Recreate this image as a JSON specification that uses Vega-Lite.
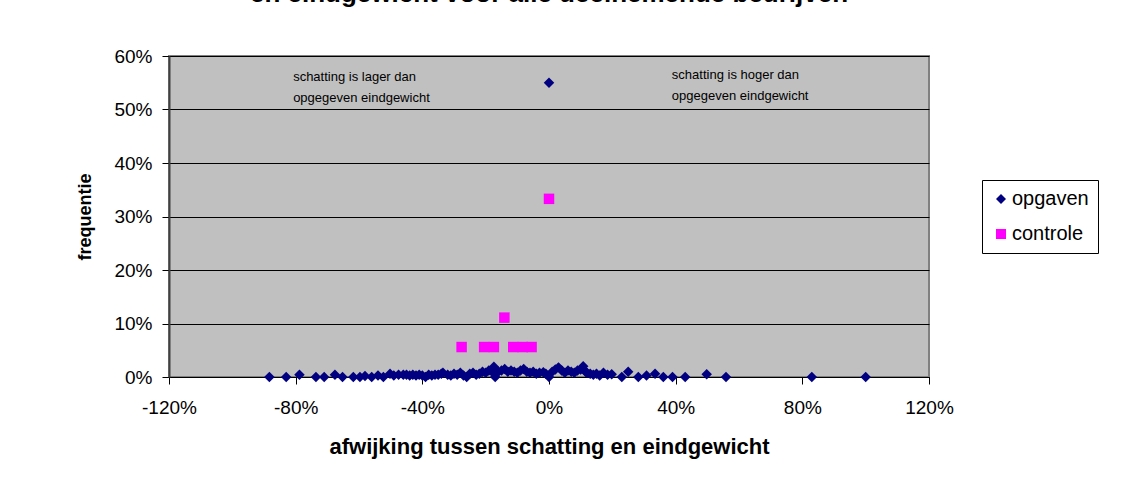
{
  "$schema": "https://vega.github.io/schema/vega-lite/v6.json",
  "width": 760,
  "height": 321,
  "autosize": {"type": "none"},
  "padding": {"left": 169, "top": 56, "right": 203, "bottom": 116},
  "background": "white",
  "title": {
    "text": "en eindgewicht voor alle deelnemende bedrijven",
    "font": "Liberation Sans",
    "fontSize": 26,
    "fontWeight": "bold",
    "color": "black",
    "anchor": "middle",
    "baseline": "alphabetic",
    "offset": 19
  },
  "config": {
    "font": "Liberation Sans",
    "view": {"stroke": "#808080", "strokeWidth": 2, "fill": "#C0C0C0"},
    "axis": {
      "labelFont": "Liberation Sans",
      "labelFontSize": 19,
      "labelColor": "black",
      "titleFont": "Liberation Sans",
      "titleFontWeight": "bold",
      "titleColor": "black",
      "tickColor": "black",
      "domainColor": "black",
      "tickSize": 7
    }
  },
  "datasets": {
    "points": [
      {"afwijking": -0.883, "frequentie": 0.000, "reeks": "opgaven"},
      {"afwijking": -0.830, "frequentie": 0.000, "reeks": "opgaven"},
      {"afwijking": -0.788, "frequentie": 0.004, "reeks": "opgaven"},
      {"afwijking": -0.736, "frequentie": 0.000, "reeks": "opgaven"},
      {"afwijking": -0.710, "frequentie": 0.000, "reeks": "opgaven"},
      {"afwijking": -0.676, "frequentie": 0.004, "reeks": "opgaven"},
      {"afwijking": -0.652, "frequentie": 0.000, "reeks": "opgaven"},
      {"afwijking": -0.618, "frequentie": 0.000, "reeks": "opgaven"},
      {"afwijking": -0.597, "frequentie": 0.000, "reeks": "opgaven"},
      {"afwijking": -0.581, "frequentie": 0.002, "reeks": "opgaven"},
      {"afwijking": -0.560, "frequentie": 0.000, "reeks": "opgaven"},
      {"afwijking": -0.540, "frequentie": 0.003, "reeks": "opgaven"},
      {"afwijking": -0.523, "frequentie": 0.000, "reeks": "opgaven"},
      {"afwijking": -0.502, "frequentie": 0.006, "reeks": "opgaven"},
      {"afwijking": -0.490, "frequentie": 0.003, "reeks": "opgaven"},
      {"afwijking": -0.475, "frequentie": 0.004, "reeks": "opgaven"},
      {"afwijking": -0.460, "frequentie": 0.004, "reeks": "opgaven"},
      {"afwijking": -0.450, "frequentie": 0.004, "reeks": "opgaven"},
      {"afwijking": -0.440, "frequentie": 0.003, "reeks": "opgaven"},
      {"afwijking": -0.430, "frequentie": 0.004, "reeks": "opgaven"},
      {"afwijking": -0.420, "frequentie": 0.003, "reeks": "opgaven"},
      {"afwijking": -0.410, "frequentie": 0.004, "reeks": "opgaven"},
      {"afwijking": -0.400, "frequentie": 0.003, "reeks": "opgaven"},
      {"afwijking": -0.390, "frequentie": 0.000, "reeks": "opgaven"},
      {"afwijking": -0.380, "frequentie": 0.004, "reeks": "opgaven"},
      {"afwijking": -0.370, "frequentie": 0.003, "reeks": "opgaven"},
      {"afwijking": -0.360, "frequentie": 0.004, "reeks": "opgaven"},
      {"afwijking": -0.350, "frequentie": 0.004, "reeks": "opgaven"},
      {"afwijking": -0.340, "frequentie": 0.006, "reeks": "opgaven"},
      {"afwijking": -0.335, "frequentie": 0.008, "reeks": "opgaven"},
      {"afwijking": -0.320, "frequentie": 0.004, "reeks": "opgaven"},
      {"afwijking": -0.310, "frequentie": 0.003, "reeks": "opgaven"},
      {"afwijking": -0.300, "frequentie": 0.006, "reeks": "opgaven"},
      {"afwijking": -0.290, "frequentie": 0.004, "reeks": "opgaven"},
      {"afwijking": -0.280, "frequentie": 0.008, "reeks": "opgaven"},
      {"afwijking": -0.270, "frequentie": 0.003, "reeks": "opgaven"},
      {"afwijking": -0.260, "frequentie": 0.000, "reeks": "opgaven"},
      {"afwijking": -0.250, "frequentie": 0.006, "reeks": "opgaven"},
      {"afwijking": -0.240, "frequentie": 0.008, "reeks": "opgaven"},
      {"afwijking": -0.230, "frequentie": 0.004, "reeks": "opgaven"},
      {"afwijking": -0.220, "frequentie": 0.006, "reeks": "opgaven"},
      {"afwijking": -0.210, "frequentie": 0.010, "reeks": "opgaven"},
      {"afwijking": -0.200, "frequentie": 0.008, "reeks": "opgaven"},
      {"afwijking": -0.190, "frequentie": 0.012, "reeks": "opgaven"},
      {"afwijking": -0.180, "frequentie": 0.010, "reeks": "opgaven"},
      {"afwijking": -0.174, "frequentie": 0.019, "reeks": "opgaven"},
      {"afwijking": -0.170, "frequentie": 0.000, "reeks": "opgaven"},
      {"afwijking": -0.165, "frequentie": 0.008, "reeks": "opgaven"},
      {"afwijking": -0.160, "frequentie": 0.010, "reeks": "opgaven"},
      {"afwijking": -0.150, "frequentie": 0.012, "reeks": "opgaven"},
      {"afwijking": -0.140, "frequentie": 0.015, "reeks": "opgaven"},
      {"afwijking": -0.130, "frequentie": 0.010, "reeks": "opgaven"},
      {"afwijking": -0.120, "frequentie": 0.012, "reeks": "opgaven"},
      {"afwijking": -0.110, "frequentie": 0.010, "reeks": "opgaven"},
      {"afwijking": -0.100, "frequentie": 0.008, "reeks": "opgaven"},
      {"afwijking": -0.090, "frequentie": 0.012, "reeks": "opgaven"},
      {"afwijking": -0.080, "frequentie": 0.015, "reeks": "opgaven"},
      {"afwijking": -0.070, "frequentie": 0.010, "reeks": "opgaven"},
      {"afwijking": -0.060, "frequentie": 0.008, "reeks": "opgaven"},
      {"afwijking": -0.050, "frequentie": 0.010, "reeks": "opgaven"},
      {"afwijking": -0.040, "frequentie": 0.006, "reeks": "opgaven"},
      {"afwijking": -0.030, "frequentie": 0.008, "reeks": "opgaven"},
      {"afwijking": -0.018, "frequentie": 0.009, "reeks": "opgaven"},
      {"afwijking": -0.010, "frequentie": 0.006, "reeks": "opgaven"},
      {"afwijking": 0.000, "frequentie": 0.550, "reeks": "opgaven"},
      {"afwijking": 0.000, "frequentie": 0.000, "reeks": "opgaven"},
      {"afwijking": 0.010, "frequentie": 0.010, "reeks": "opgaven"},
      {"afwijking": 0.020, "frequentie": 0.014, "reeks": "opgaven"},
      {"afwijking": 0.030, "frequentie": 0.018, "reeks": "opgaven"},
      {"afwijking": 0.040, "frequentie": 0.012, "reeks": "opgaven"},
      {"afwijking": 0.050, "frequentie": 0.008, "reeks": "opgaven"},
      {"afwijking": 0.060, "frequentie": 0.012, "reeks": "opgaven"},
      {"afwijking": 0.070, "frequentie": 0.010, "reeks": "opgaven"},
      {"afwijking": 0.080, "frequentie": 0.008, "reeks": "opgaven"},
      {"afwijking": 0.090, "frequentie": 0.012, "reeks": "opgaven"},
      {"afwijking": 0.100, "frequentie": 0.014, "reeks": "opgaven"},
      {"afwijking": 0.108, "frequentie": 0.020, "reeks": "opgaven"},
      {"afwijking": 0.115, "frequentie": 0.010, "reeks": "opgaven"},
      {"afwijking": 0.120, "frequentie": 0.008, "reeks": "opgaven"},
      {"afwijking": 0.130, "frequentie": 0.006, "reeks": "opgaven"},
      {"afwijking": 0.140, "frequentie": 0.004, "reeks": "opgaven"},
      {"afwijking": 0.150, "frequentie": 0.006, "reeks": "opgaven"},
      {"afwijking": 0.160, "frequentie": 0.003, "reeks": "opgaven"},
      {"afwijking": 0.172, "frequentie": 0.008, "reeks": "opgaven"},
      {"afwijking": 0.185, "frequentie": 0.004, "reeks": "opgaven"},
      {"afwijking": 0.198, "frequentie": 0.005, "reeks": "opgaven"},
      {"afwijking": 0.230, "frequentie": 0.000, "reeks": "opgaven"},
      {"afwijking": 0.250, "frequentie": 0.010, "reeks": "opgaven"},
      {"afwijking": 0.282, "frequentie": 0.000, "reeks": "opgaven"},
      {"afwijking": 0.308, "frequentie": 0.003, "reeks": "opgaven"},
      {"afwijking": 0.335, "frequentie": 0.006, "reeks": "opgaven"},
      {"afwijking": 0.361, "frequentie": 0.000, "reeks": "opgaven"},
      {"afwijking": 0.390, "frequentie": 0.000, "reeks": "opgaven"},
      {"afwijking": 0.430, "frequentie": 0.000, "reeks": "opgaven"},
      {"afwijking": 0.498, "frequentie": 0.005, "reeks": "opgaven"},
      {"afwijking": 0.559, "frequentie": 0.000, "reeks": "opgaven"},
      {"afwijking": 0.830, "frequentie": 0.000, "reeks": "opgaven"},
      {"afwijking": 1.000, "frequentie": 0.000, "reeks": "opgaven"},
      {"afwijking": 0.000, "frequentie": 0.333, "reeks": "controle"},
      {"afwijking": -0.141, "frequentie": 0.111, "reeks": "controle"},
      {"afwijking": -0.276, "frequentie": 0.056, "reeks": "controle"},
      {"afwijking": -0.205, "frequentie": 0.056, "reeks": "controle"},
      {"afwijking": -0.174, "frequentie": 0.056, "reeks": "controle"},
      {"afwijking": -0.113, "frequentie": 0.056, "reeks": "controle"},
      {"afwijking": -0.083, "frequentie": 0.056, "reeks": "controle"},
      {"afwijking": -0.055, "frequentie": 0.056, "reeks": "controle"}
    ],
    "notes": [
      {"afwijking": -0.808, "frequentie": 0.561, "tekst": "schatting is lager dan"},
      {"afwijking": -0.808, "frequentie": 0.521, "tekst": "opgegeven eindgewicht"},
      {"afwijking": 0.388, "frequentie": 0.565, "tekst": "schatting is hoger dan"},
      {"afwijking": 0.388, "frequentie": 0.525, "tekst": "opgegeven eindgewicht"}
    ]
  },
  "layer": [
    {
      "mark": {"type": "rule", "color": "black", "strokeWidth": 2},
      "encoding": {"x": {"datum": 0, "type": "quantitative"}}
    },
    {
      "data": {"name": "points"},
      "mark": {"type": "point", "filled": true, "size": 110, "opacity": 1},
      "encoding": {
        "x": {
          "field": "afwijking",
          "type": "quantitative",
          "scale": {"domain": [-1.2, 1.2], "nice": false, "zero": false},
          "axis": {
            "title": "afwijking tussen schatting en eindgewicht",
            "titleFontSize": 22,
            "titleY": 69,
            "titleBaseline": "middle",
            "values": [-1.2, -0.8, -0.4, 0, 0.4, 0.8, 1.2],
            "format": ".0%",
            "labelExpr": "replace(datum.label, '\u2212', '-')",
            "labelPadding": 14,
            "labelFlush": false,
            "labelOverlap": false,
            "grid": false
          }
        },
        "y": {
          "field": "frequentie",
          "type": "quantitative",
          "scale": {"domain": [0, 0.6], "nice": false},
          "axis": {
            "title": "frequentie",
            "titleFontSize": 18,
            "titleX": -84,
            "titleBaseline": "middle",
            "values": [0, 0.1, 0.2, 0.3, 0.4, 0.5, 0.6],
            "format": ".0%",
            "labelPadding": 10,
            "labelFlush": false,
            "grid": true,
            "gridColor": "black",
            "gridWidth": 1,
            "gridOpacity": 1,
            "domainColor": "#404040",
            "domainWidth": 2
          }
        },
        "color": {
          "field": "reeks",
          "type": "nominal",
          "scale": {"domain": ["opgaven", "controle"], "range": ["#000080", "#FF00FF"]},
          "legend": {
            "title": null,
            "orient": "none",
            "legendX": 813,
            "legendY": 124,
            "strokeColor": "black",
            "fillColor": "white",
            "padding": 9,
            "rowPadding": 15,
            "labelFontSize": 20,
            "labelFont": "Liberation Sans",
            "labelColor": "black",
            "symbolSize": 100,
            "symbolOpacity": 1,
            "labelOffset": 1
          }
        },
        "shape": {
          "field": "reeks",
          "type": "nominal",
          "scale": {"domain": ["opgaven", "controle"], "range": ["diamond", "square"]}
        }
      }
    },
    {
      "data": {"name": "notes"},
      "mark": {"type": "text", "align": "left", "baseline": "middle", "fontSize": 13, "font": "Liberation Sans", "color": "black"},
      "encoding": {
        "x": {"field": "afwijking", "type": "quantitative"},
        "y": {"field": "frequentie", "type": "quantitative"},
        "text": {"field": "tekst"}
      }
    }
  ]
}
